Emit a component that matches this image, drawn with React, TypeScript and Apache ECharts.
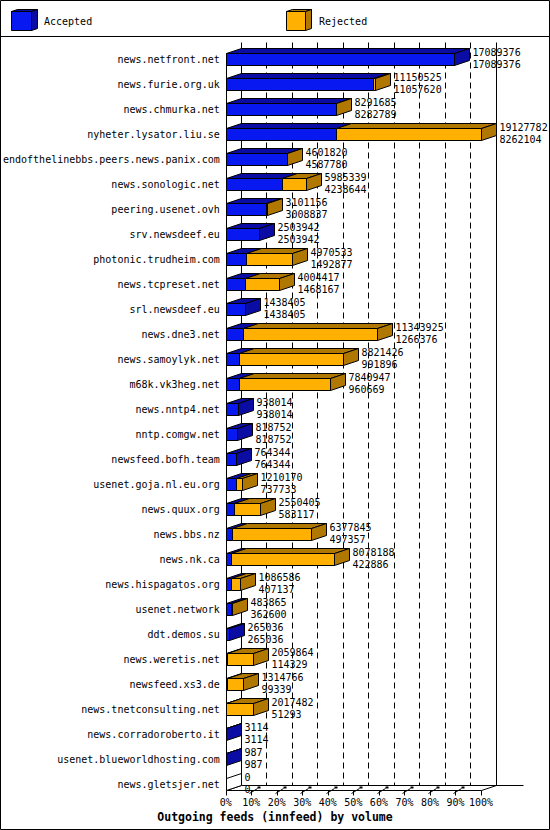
import React, { useEffect, useRef } from "react";
import * as echarts from "echarts";

const hosts = [
  "news.netfront.net",
  "news.furie.org.uk",
  "news.chmurka.net",
  "nyheter.lysator.liu.se",
  "endofthelinebbs.peers.news.panix.com",
  "news.sonologic.net",
  "peering.usenet.ovh",
  "srv.newsdeef.eu",
  "photonic.trudheim.com",
  "news.tcpreset.net",
  "srl.newsdeef.eu",
  "news.dne3.net",
  "news.samoylyk.net",
  "m68k.vk3heg.net",
  "news.nntp4.net",
  "nntp.comgw.net",
  "newsfeed.bofh.team",
  "usenet.goja.nl.eu.org",
  "news.quux.org",
  "news.bbs.nz",
  "news.nk.ca",
  "news.hispagatos.org",
  "usenet.network",
  "ddt.demos.su",
  "news.weretis.net",
  "newsfeed.xs3.de",
  "news.tnetconsulting.net",
  "news.corradoroberto.it",
  "usenet.blueworldhosting.com",
  "news.gletsjer.net",
];

// offered (total) volume per feed
const offered = [
  17089376, 11150525, 8291685, 19127782, 4601820, 5985339, 3101156, 2503942,
  4970533, 4004417, 1438405, 11343925, 8821426, 7840947, 938014, 818752,
  764344, 1210170, 2550405, 6377845, 8078188, 1086586, 483865, 265036,
  2059864, 1314766, 2017482, 3114, 987, 0,
];

// accepted volume per feed (rejected = offered - accepted)
const accepted = [
  17089376, 11057620, 8282789, 8262104, 4587780, 4238644, 3008837, 2503942,
  1492877, 1468167, 1438405, 1266376, 991896, 960669, 938014, 818752,
  764344, 737733, 583117, 497357, 422886, 407137, 362600, 265036,
  114329, 99339, 51293, 3114, 987, 0,
];

const seriesNames = ["Accepted", "Rejected"];
const titleText = "Outgoing feeds (innfeed) by volume";

const BLUE = "#0818F0";
const BLUE_DARK = "#0A0CA4";
const ORANGE = "#FFB000";
const ORANGE_DARK = "#B07800";
const FONT = "'DejaVu Sans Mono', 'Liberation Mono', monospace";
const DX = 15;
const DY = -5;
const HALF = 6;

const c = (v: number) => Math.round(v) + 0.5;

export default function App() {
  const ref = useRef<HTMLDivElement>(null);

  useEffect(() => {
    document.body.style.margin = "0";
    const chart = echarts.init(ref.current as HTMLDivElement, null, {
      renderer: "svg",
    });
    const maxV = Math.max(...offered);
    const barData = hosts.map((_, i) => [i, accepted[i], offered[i]]);

    const stroke = (fill: string) => ({ fill, stroke: "#000", lineWidth: 1 });
    const poly = (pts: number[][], fill: string) => ({
      type: "polygon",
      shape: { points: pts },
      style: stroke(fill),
    });
    const line = (x1: number, y1: number, x2: number, y2: number, dash?: number[]) => ({
      type: "line",
      shape: { x1, y1, x2, y2 },
      style: { stroke: "#000", lineWidth: 1, lineDash: dash || null, fill: null },
    });

    const cube = (x: number, y: number, w: number, h: number, front: string, dark: string) => {
      const X = c(x), Y = c(y), W = w, H = h, d = 6, e = -2;
      return [
        poly([[X, Y], [X + W, Y], [X + W + d, Y + e], [X + d, Y + e]], dark),
        poly([[X + W, Y], [X + W + d, Y + e], [X + W + d, Y + H + e], [X + W, Y + H]], dark),
        { type: "rect", shape: { x: X, y: Y, width: W, height: H }, style: stroke(front) },
      ];
    };

    const option: any = {
      animation: false,
      title: {
        text: titleText,
        left: "center",
        top: 810,
        padding: 0,
        textStyle: {
          fontFamily: FONT,
          fontWeight: "bold",
          fontSize: 11.5,
          lineHeight: 14,
          color: "#000",
        },
      },
      grid: { left: 225, top: 46.5, width: 256, height: 750 },
      xAxis: {
        type: "value",
        min: 0,
        max: maxV,
        interval: maxV / 10,
        axisLine: { show: false },
        axisTick: { show: false },
        splitLine: { show: false },
        axisLabel: {
          margin: 0,
          fontFamily: FONT,
          fontSize: 10,
          lineHeight: 12,
          color: "#000",
          hideOverlap: false,
          formatter: (v: number) => Math.round((v / maxV) * 100) + "%",
        },
      },
      yAxis: {
        type: "category",
        inverse: true,
        data: hosts,
        axisLine: { show: false },
        axisTick: { show: false },
        splitLine: { show: false },
        axisLabel: {
          interval: 0,
          margin: 6,
          fontFamily: FONT,
          fontSize: 10,
          color: "#000",
        },
      },
      graphic: [
        {
          type: "rect",
          shape: { x: 0.5, y: 0.5, width: 549, height: 829 },
          style: { fill: null, stroke: "#000", lineWidth: 1 },
        },
        {
          type: "line",
          shape: { x1: 0, y1: 36.5, x2: 550, y2: 36.5 },
          style: { stroke: "#000", lineWidth: 1 },
        },
        ...cube(10.5, 10.5, 20, 19, BLUE, BLUE_DARK),
        {
          type: "text",
          x: 44,
          y: 21,
          style: { text: seriesNames[0], font: `10px ${FONT}`, fill: "#000", verticalAlign: "middle" },
        },
        ...cube(285.5, 10.5, 19, 19, ORANGE, ORANGE_DARK),
        {
          type: "text",
          x: 319,
          y: 21,
          style: { text: seriesNames[1], font: `10px ${FONT}`, fill: "#000", verticalAlign: "middle" },
        },
      ],
      series: [
        {
          type: "custom",
          name: "frame",
          z: 1,
          silent: true,
          data: [[0, 0]],
          encode: { x: 0, y: 1 },
          renderItem: (_params: any, api: any) => {
            const [x0, yFirst] = api.coord([0, 0]);
            const x100 = api.coord([maxV, 0])[0];
            const yLast = api.coord([0, hosts.length - 1])[1];
            const X0 = c(x0), X100 = c(x100);
            const frontTop = c(yFirst - HALF);
            const frontBot = c(yLast + HALF);
            const backTop = c(yFirst - 2 * HALF) + DY;
            const backBot = frontBot + DY;
            const children: any[] = [];
            for (let k = 1; k <= 9; k++) {
              const bx = c(x0 + ((x100 - x0) * k) / 10 + DX);
              children.push(line(bx, backTop, bx, backBot, [6, 4]));
            }
            children.push(line(X0 + DX, backTop, X0 + DX, backBot));
            children.push(line(X100 + DX, backTop, X100 + DX, backBot));
            children.push(line(X0 + DX, backBot, X100 + DX + 27, backBot));
            children.push(line(X0, frontTop, X0, frontBot));
            children.push(line(X0, frontBot, X100, frontBot));
            children.push(line(X0, frontBot, X0 + DX, backBot));
            children.push(line(X100, frontBot, X100 + DX, backBot));
            for (let k = 0; k <= 10; k++) {
              const fx = c(x0 + ((x100 - x0) * k) / 10);
              children.push(line(fx, frontBot, fx, frontBot + 5));
              if (k > 0 && k < 10) {
                children.push(line(fx - 2, frontBot + 3, fx + 6, frontBot - 2));
                children.push({
                  type: "rect",
                  shape: { x: fx + 6, y: frontBot - 4, width: 3, height: 2 },
                  style: { fill: "#000" },
                });
              }
            }
            return { type: "group", children };
          },
        },
        {
          type: "custom",
          name: "volume",
          z: 2,
          silent: true,
          data: barData,
          encode: { y: 0, x: [1, 2] },
          renderItem: (_params: any, api: any) => {
            const idx = api.value(0);
            const acc = api.value(1);
            const tot = api.value(2);
            const [x0, cy] = api.coord([0, idx]);
            const xa = api.coord([acc, idx])[0];
            const xt = api.coord([tot, idx])[0];
            const X0 = c(x0), XA = c(xa), XT = c(xt);
            const top = c(cy - HALF), bot = c(cy + HALF);
            const children: any[] = [];
            if (acc > 0)
              children.push(poly([[X0, top], [XA, top], [XA + DX, top + DY], [X0 + DX, top + DY]], BLUE_DARK));
            if (tot > acc)
              children.push(poly([[XA, top], [XT, top], [XT + DX, top + DY], [XA + DX, top + DY]], ORANGE_DARK));
            if (acc > 0 && XA > X0)
              children.push({ type: "rect", shape: { x: X0, y: top, width: XA - X0, height: bot - top }, style: stroke(BLUE) });
            if (tot > acc && XT > XA)
              children.push({ type: "rect", shape: { x: XA, y: top, width: XT - XA, height: bot - top }, style: stroke(ORANGE) });
            const sideFill = tot === 0 ? "#FFFFFF" : tot > acc ? ORANGE_DARK : BLUE_DARK;
            children.push(poly([[XT, top], [XT + DX, top + DY], [XT + DX, bot + DY], [XT, bot]], sideFill));
            children.push({
              type: "text",
              x: XT + DX + 3,
              y: cy - 0.5,
              style: {
                text: `${tot}\n${acc}`,
                font: `10px ${FONT}`,
                fill: "#000",
                verticalAlign: "middle",
                lineHeight: 12,
              },
            });
            return { type: "group", children };
          },
        },
      ],
    };

    chart.setOption(option);
    return () => chart.dispose();
  }, []);

  return <div ref={ref} style={{ width: 550, height: 830 }} />;
}
